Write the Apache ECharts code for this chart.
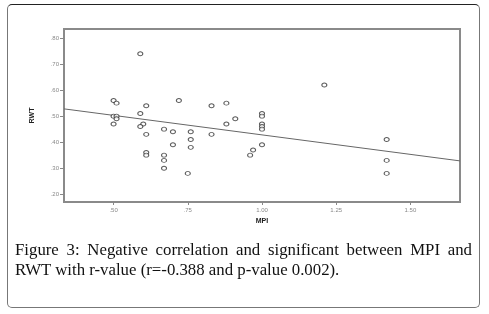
<!DOCTYPE html>
<html>
<head>
<meta charset="utf-8">
<script src="https://cdn.jsdelivr.net/npm/echarts@6/dist/echarts.min.js"></script>
<style>
  html, body { margin: 0; padding: 0; background: #fff; }
  .page { position: relative; width: 489px; height: 314px; overflow: hidden; }
  .frame {
    position: absolute; left: 7px; top: 4px; width: 471px; height: 302px;
    border: 1px solid #777; border-top-color: #222; border-radius: 5px;
  }
  #chart { position: absolute; left: 0; top: 0; width: 489px; height: 314px; }
  .caption {
    position: absolute; left: 15px; top: 240px; width: 457px;
    font-family: "Liberation Serif", serif; font-size: 16.8px; line-height: 19.5px;
    color: #111; text-align: justify;
  }
</style>
</head>
<body>
<div class="page">
  <div class="frame"></div>
  <div id="chart"></div>
  <div class="caption">Figure 3: Negative correlation and significant between MPI and RWT with r-value (r=-0.388 and p-value 0.002).</div>
</div>
<script>
// MPI vs RWT
const mpi = [0.59, 1.21, 0.50, 0.51, 0.61, 0.72, 0.83, 0.88, 0.59, 0.50, 0.51, 0.51,
  0.50, 0.60, 0.59, 0.61, 0.67, 0.70, 0.76, 0.76, 0.76, 0.70, 0.61, 0.61,
  0.67, 0.67, 0.67, 0.75, 0.83, 0.88, 0.91, 1.00, 1.00, 1.00, 1.00, 1.00,
  1.00, 0.97, 0.96, 1.42, 1.42, 1.42];
const rwt = [0.74, 0.62, 0.56, 0.55, 0.54, 0.56, 0.54, 0.55, 0.51, 0.50, 0.50, 0.49,
  0.47, 0.47, 0.46, 0.43, 0.45, 0.44, 0.44, 0.41, 0.38, 0.39, 0.36, 0.35,
  0.35, 0.33, 0.30, 0.28, 0.43, 0.47, 0.49, 0.51, 0.50, 0.47, 0.46, 0.45,
  0.39, 0.37, 0.35, 0.41, 0.33, 0.28];
// fit line end points
const fitX = [0.333, 1.667];
const fitY = [0.528, 0.328];
const xTicks = [0.5, 0.75, 1.0, 1.25, 1.5];
const xTickLabels = [".50", ".75", "1.00", "1.25", "1.50"];
const yTicks = [0.2, 0.3, 0.4, 0.5, 0.6, 0.7, 0.8];
const yTickLabels = [".20", ".30", ".40", ".50", ".60", ".70", ".80"];

let chart = echarts.init(document.getElementById("chart"));
let option = {
  animation: false,
  grid: {
    left: 64, right: 29, top: 29, bottom: 112,
    show: true, borderColor: "#8a8a8a", borderWidth: 2,
  },
  xAxis: {
    type: "value",
    min: 0.333, max: 1.667,
    name: "MPI", nameLocation: "middle", nameGap: 15,
    nameTextStyle: { fontFamily: "Liberation Sans", fontSize: 7, fontWeight: "bold", color: "#222" },
    axisLine: { show: false },
    splitLine: { show: false },
    axisTick: { show: true, customValues: xTicks, length: 3, lineStyle: { color: "#888" } },
    axisLabel: {
      customValues: xTicks, margin: 5, fontSize: 6, color: "#888",
      fontFamily: "Liberation Sans",
      formatter: (v) => xTickLabels[xTicks.findIndex((t) => Math.abs(t - v) < 1e-6)],
    },
  },
  yAxis: {
    type: "value",
    min: 0.17, max: 0.835,
    name: "RWT", nameLocation: "middle", nameGap: 28, nameRotate: 90,
    nameTextStyle: { fontFamily: "Liberation Sans", fontSize: 7, fontWeight: "bold", color: "#222" },
    axisLine: { show: false },
    splitLine: { show: false },
    axisTick: { show: true, customValues: yTicks, length: 4, lineStyle: { color: "#888" } },
    axisLabel: {
      customValues: yTicks, margin: 5, fontSize: 6, color: "#888",
      fontFamily: "Liberation Sans",
      formatter: (v) => yTickLabels[yTicks.findIndex((t) => Math.abs(t - v) < 1e-6)],
    },
  },
  series: [
    {
      type: "line",
      data: fitX.map((x, i) => [x, fitY[i]]),
      showSymbol: false,
      lineStyle: { color: "#666", width: 1 },
      z: 1,
    },
    {
      type: "scatter",
      data: mpi.map((x, i) => [x, rwt[i]]),
      // small flat ellipse, hollow
      symbol: "path://M0,2a3,2 0 1,0 6,0a3,2 0 1,0 -6,0z",
      symbolSize: [5, 4],
      itemStyle: { color: "#fff", borderColor: "#333", borderWidth: 1 },
      z: 2,
    },
  ],
};
chart.setOption(option);
</script>
</body>
</html>
